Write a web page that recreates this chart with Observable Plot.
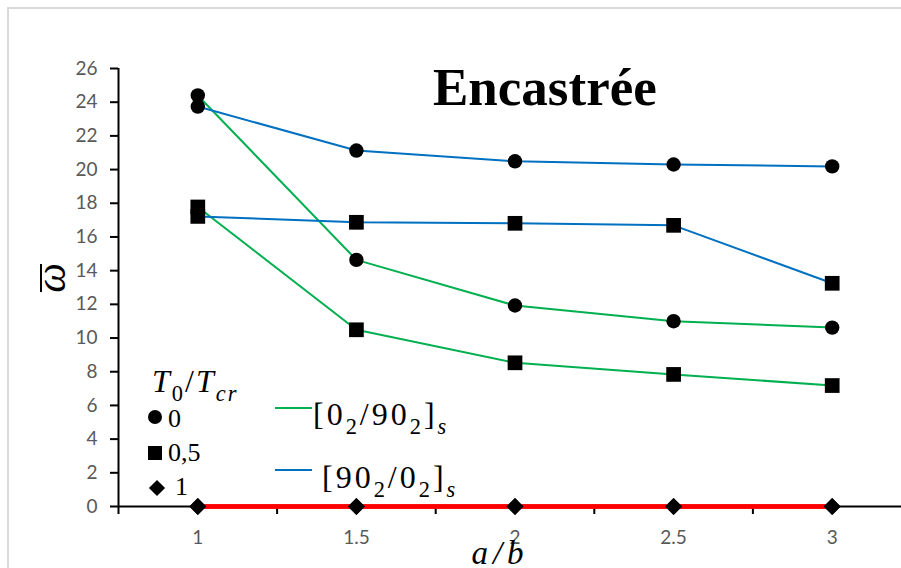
<!DOCTYPE html>
<html><head><meta charset="utf-8">
<script src="https://cdn.jsdelivr.net/npm/d3@7"></script>
<script src="https://cdn.jsdelivr.net/npm/@observablehq/plot@0.6"></script>
<style>
body{margin:0;background:#fff;}
#wrap{position:relative;width:901px;height:568px;overflow:hidden;background:#fff;}
#wrap svg{position:absolute;left:0;top:0;}
</style></head><body><div id="wrap"></div>
<script>
// ---- data ----
const ratios = [1, 1.5, 2, 2.5, 3];
const xTickLabels = ["1", "1.5", "2", "2.5", "3"];
const xCategoryEdges = [0.75, 1.25, 1.75, 2.25, 2.75, 3.25];
const yTicks = [0, 2, 4, 6, 8, 10, 12, 14, 16, 18, 20, 22, 24, 26];
const laminations = ["0_90", "90_0"];
const loadLevels = ["0", "0,5", "1"];
const w_0_90_T0  = [24.40, 14.64, 11.93, 11.00, 10.62];
const w_0_90_T05 = [17.78, 10.49, 8.53, 7.84, 7.18];
const w_0_90_T1  = [0, 0, 0, 0, 0];
const w_90_0_T0  = [23.74, 21.13, 20.49, 20.30, 20.19];
const w_90_0_T05 = [17.22, 16.87, 16.81, 16.69, 13.25];
const w_90_0_T1  = [0, 0, 0, 0, 0];

const seriesDefs = [
  {lam: "0_90", load: "0", values: w_0_90_T0},
  {lam: "0_90", load: "0,5", values: w_0_90_T05},
  {lam: "0_90", load: "1", values: w_0_90_T1},
  {lam: "90_0", load: "0", values: w_90_0_T0},
  {lam: "90_0", load: "0,5", values: w_90_0_T05},
  {lam: "90_0", load: "1", values: w_90_0_T1}
];
const rows = seriesDefs.flatMap(s => ratios.map((r, i) => ({ratio: r, w: s.values[i], lam: s.lam, load: s.load, key: s.lam + "|" + s.load})));
const lineColor = d => d.load === "1" ? "#FF0000" : (d.lam === "0_90" ? "#00B050" : "#0070C0");

const chart = Plot.plot({
  width: 901, height: 568,
  marginLeft: 118, marginTop: 68, marginBottom: 62, marginRight: 0,
  x: {domain: [0.75, 3.25], range: [118, 911]},
  y: {domain: [0, 26], range: [506, 68]},
  style: {background: "transparent", fontFamily: "Lato", fontSize: "19px", color: "black"},
  marks: [
    Plot.line(rows.filter(d => d.load !== "1"), {x: "ratio", y: "w", z: "key", stroke: lineColor, strokeWidth: 2}),
    Plot.ruleY([0], {stroke: "black", strokeWidth: 2}),
    Plot.ruleX([0.75], {y1: 0, y2: 26, stroke: "black", strokeWidth: 2}),
    Plot.axisY({ticks: yTicks, tickSize: 8, tickPadding: 13, stroke: "black", strokeWidth: 2, fill: "#595959", label: null}),
    Plot.axisX({ticks: xCategoryEdges, tickSize: 8, stroke: "black", strokeWidth: 2, fill: "none", label: null}),
    Plot.axisX({ticks: ratios, tickSize: 0, tickPadding: 24, fill: "#595959", label: null, tickFormat: d => xTickLabels[ratios.indexOf(d)]}),
    Plot.line(rows.filter(d => d.load === "1"), {x: "ratio", y: "w", z: "key", stroke: "#FF0000", strokeWidth: 4.5}),
    Plot.dot(rows.filter(d => d.load === "0"), {x: "ratio", y: "w", symbol: "circle", r: 7.2, fill: "black"}),
    Plot.dot(rows.filter(d => d.load === "0,5"), {x: "ratio", y: "w", symbol: "square", r: 8.3, fill: "black"}),
    Plot.dot(rows.filter(d => d.load === "1"), {x: "ratio", y: "w", symbol: "diamond2", r: 7.6, fill: "black"})
  ]
});
const wrap = document.getElementById("wrap");
wrap.appendChild(chart);

// ---- annotation overlay (title, axis titles, legend, frame) ----
const SERIF = "'Liberation Serif', serif";
const ov = d3.select(wrap).append("svg").attr("width", 901).attr("height", 568);
ov.append("rect").attr("x", 8).attr("y", 8).attr("width", 1000).attr("height", 1000)
  .attr("fill", "none").attr("stroke", "#d9d9d9").attr("stroke-width", 2);

function rich(g, x, y, parts, size, italicDefault) {
  const t = g.append("text").attr("x", x).attr("y", y).style("font-size", size + "px").style("font-family", SERIF).attr("fill", "black");
  let shift = 0;
  parts.forEach(p => {
    const target = p.sub ? size * 0.28 : 0;
    t.append("tspan").text(p.t)
      .attr("dy", target - shift)
      .style("font-size", (p.sub ? size * 0.7 : size) + "px")
      .style("font-style", p.it === undefined ? (italicDefault ? "italic" : "normal") : (p.it ? "italic" : "normal"));
    shift = target;
  });
  return t;
}

ov.append("text").attr("x", 433).attr("y", 105).style("font-family", SERIF).style("font-weight", "bold")
  .style("font-size", "53px").attr("fill", "black").text("Encastrée");

// y label (omega bar), rotated
const yl = ov.append("g").attr("transform", "translate(0,278) rotate(-90)");
yl.append("text").attr("x", 0).attr("y", 65).attr("text-anchor", "middle").style("font-family", SERIF)
  .style("font-style", "italic").style("font-size", "42px").attr("fill", "black").text("ω");
yl.append("line").attr("x1", -14).attr("x2", 14).attr("y1", 41).attr("y2", 41).attr("stroke", "black").attr("stroke-width", 2);

// x label
ov.append("text").attr("x", 500).attr("y", 564).attr("text-anchor", "middle").style("font-family", SERIF)
  .style("font-style", "italic").style("font-size", "33px").attr("letter-spacing", 5).attr("fill", "black").text("a/b");

// legend: load levels
rich(ov, 152, 392, [{t: "T", it: true}, {t: "0", sub: true, it: false}, {t: "/", it: false}, {t: "T", it: true}, {t: "cr", sub: true, it: true}], 32, true).attr("letter-spacing", 2);
const sym = {"0": d3.symbolCircle, "0,5": d3.symbolSquare, "1": d3.symbolDiamond2};
const symR = {"0": 7, "0,5": 7.9, "1": 7.3};
const legPos = [{x: 155, y: 417, tx: 168, ty: 427}, {x: 155, y: 453, tx: 168, ty: 461}, {x: 157, y: 488, tx: 175, ty: 495}];
loadLevels.forEach((l, i) => {
  const p = legPos[i];
  ov.append("path").attr("transform", `translate(${p.x},${p.y})`).attr("d", d3.symbol(sym[l], Math.PI * symR[l] * symR[l])()).attr("fill", "black");
  ov.append("text").attr("x", p.tx).attr("y", p.ty).style("font-family", SERIF).style("font-size", "26px").attr("fill", "black").text(l);
});

// legend: laminations
const lamLeg = [
  {color: "#00B050", ly: 408, tx: 313, ty: 425, parts: [{t: "[0"}, {t: "2", sub: true}, {t: "/90"}, {t: "2", sub: true}, {t: "]"}, {t: "s", sub: true, it: true}]},
  {color: "#0070C0", ly: 470, tx: 322, ty: 488, parts: [{t: "[90"}, {t: "2", sub: true}, {t: "/0"}, {t: "2", sub: true}, {t: "]"}, {t: "s", sub: true, it: true}]}
];
laminations.forEach((lam, i) => {
  const L = lamLeg[i];
  ov.append("line").attr("x1", 275).attr("x2", 312).attr("y1", L.ly).attr("y2", L.ly).attr("stroke", L.color).attr("stroke-width", 2);
  rich(ov, L.tx, L.ty, L.parts, 32, false).attr("letter-spacing", 3);
});
</script></body></html>
